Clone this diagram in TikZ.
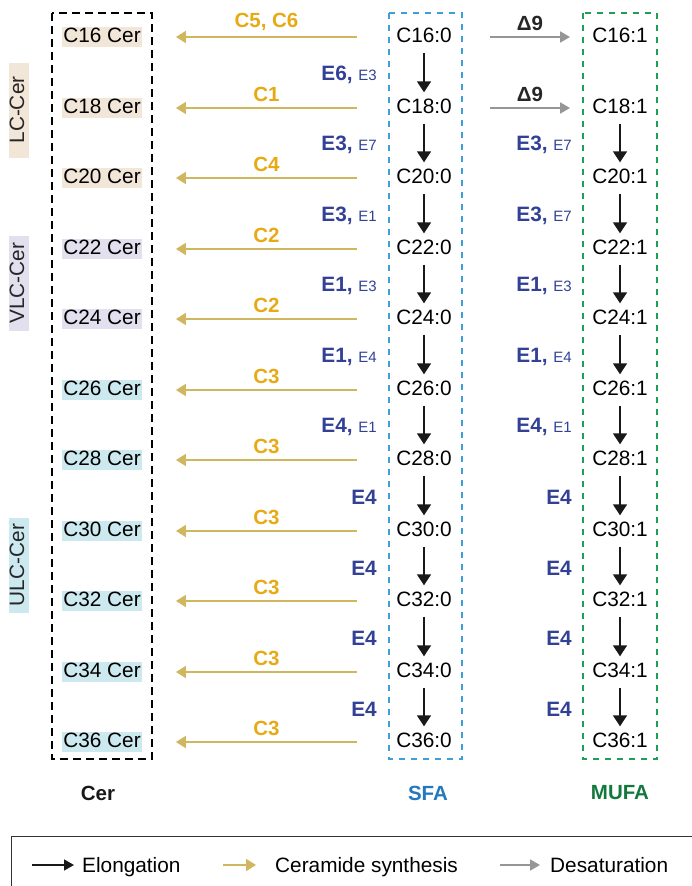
\documentclass[tikz,border=0pt]{standalone}
\usepackage{fontspec}
\setmainfont{Liberation Sans}
\usetikzlibrary{arrows.meta,calc}
\definecolor{cbeige}{RGB}{242,230,216}
\definecolor{clav}{RGB}{226,224,238}
\definecolor{cltblue}{RGB}{205,233,240}
\definecolor{goldtxt}{RGB}{232,170,20}
\definecolor{goldarr}{RGB}{208,182,95}
\definecolor{eblue}{RGB}{50,65,150}
\definecolor{sfatxt}{RGB}{35,120,190}
\definecolor{sfadash}{RGB}{60,160,215}
\definecolor{mufatxt}{RGB}{20,120,60}
\definecolor{mufadash}{RGB}{30,160,80}
\definecolor{grayarr}{RGB}{150,150,150}
\tikzset{
  cerbox/.style={inner xsep=1pt, inner ysep=0.5pt, text height=14.5pt, text depth=4.5pt},
  fabox/.style={inner xsep=2pt, inner ysep=6pt, text height=14.5pt, text depth=4.5pt},
  sidebox/.style={rotate=90, inner xsep=0pt, inner ysep=0.5pt, minimum width=95pt, text height=14.5pt, text depth=4.5pt, text=black!85},
  elong/.style={line width=1.6pt, -{Triangle[width=14pt,length=11pt]}, black!90},
  cerarr/.style={line width=1.9pt, goldarr, -{Triangle[width=12pt,length=10pt]}},
  desat/.style={line width=1.8pt, grayarr, -{Triangle[width=11pt,length=10pt]}},
  goldlab/.style={text=goldtxt, font=\fontsize{20.5}{24}\selectfont\bfseries},
  elab/.style={text=eblue, anchor=east, inner sep=0pt},
  grplab/.style={font=\fontsize{20.5}{24}\selectfont\bfseries},
  dashbox/.style={line width=1.8pt},
  legtext/.style={anchor=base west, inner sep=0pt}
}
\newcommand{\elbl}[2]{\textbf{#1}\ {\fontsize{15}{16}\selectfont #2}}
\begin{document}
\begin{tikzpicture}[x=1pt,y=-1pt, font=\fontsize{20.8}{24}\selectfont]
\useasboundingbox (0,0) rectangle (692,886);

% dashed group boxes
\draw[dashbox, black, dash pattern=on 8pt off 5pt] (52,13) rectangle (152,759);
\draw[dashbox, sfadash, dash pattern=on 6pt off 6pt] (389,13) rectangle (462,759);
\draw[dashbox, mufadash, dash pattern=on 6pt off 6pt] (583,13) rectangle (657,759);

% side labels
\node[sidebox, fill=cbeige] (lc) at (19,110) {LC-Cer};
\node[sidebox, fill=clav] (vlc) at (19,283) {VLC-Cer};
\node[sidebox, fill=cltblue] (ulc) at (19,565) {ULC-Cer};

% nodes
\foreach \n [count=\i from 0] in {16,18,...,36} {
  \pgfmathsetmacro{\yy}{round(37+70.5*\i)}
  \node[fabox] (s\n) at (424,\yy) {C\n:0};
  \node[fabox] (m\n) at (620,\yy) {C\n:1};
}
\foreach \n [count=\i from 0] in {16,18,20} {
  \pgfmathsetmacro{\yy}{round(37+70.5*\i)}
  \node[cerbox, fill=cbeige] (c\n) at (102,\yy) {C\n{} Cer};
}
\foreach \n [count=\i from 3] in {22,24} {
  \pgfmathsetmacro{\yy}{round(37+70.5*\i)}
  \node[cerbox, fill=clav] (c\n) at (102,\yy) {C\n{} Cer};
}
\foreach \n [count=\i from 5] in {26,28,...,36} {
  \pgfmathsetmacro{\yy}{round(37+70.5*\i)}
  \node[cerbox, fill=cltblue] (c\n) at (102,\yy) {C\n{} Cer};
}

% ceramide synthesis arrows
\foreach \n/\lab in {16/{C5, C6},18/C1,20/C4,22/C2,24/C2,26/C3,28/C3,30/C3,32/C3,34/C3,36/C3} {
  \coordinate (ys\n) at ([xshift=-67pt]s\n.center);
  \draw[cerarr] (ys\n) -- ([xshift=34pt]c\n.east) node[midway, above=2pt, goldlab] {\lab};
}

% desaturation arrows
\foreach \n in {16,18} {
  \draw[desat] ([xshift=36pt]s\n.east) -- ([xshift=-20pt]m\n.west)
     node[midway, above=2pt, font=\fontsize{20.5}{24}\selectfont\bfseries, text=black!85] {Δ9};
}

% elongation arrows SFA
\foreach \a/\b/\p/\q in {16/18/{E6,}/E3, 18/20/{E3,}/E7, 20/22/{E3,}/E1, 22/24/{E1,}/E3, 24/26/{E1,}/E4, 26/28/{E4,}/E1, 28/30/E4/{}, 30/32/E4/{}, 32/34/E4/{}, 34/36/E4/{}} {
  \draw[elong] (s\a) -- (s\b);
  \node[elab] at ([xshift=-47pt,yshift=-2pt]$(s\a)!0.5!(s\b)$) {\elbl{\p}{\q}};
}
% elongation arrows MUFA
\foreach \a/\b/\p/\q in {18/20/{E3,}/E7, 20/22/{E3,}/E7, 22/24/{E1,}/E3, 24/26/{E1,}/E4, 26/28/{E4,}/E1, 28/30/E4/{}, 30/32/E4/{}, 32/34/E4/{}, 34/36/E4/{}} {
  \draw[elong] (m\a) -- (m\b);
  \node[elab] at ([xshift=-48pt,yshift=-2pt]$(m\a)!0.5!(m\b)$) {\elbl{\p}{\q}};
}

% group labels
\node[grplab, text=black!90] (gcer) at (98,793) {Cer};
\node[grplab, text=sfatxt] (gsfa) at (428,793) {SFA};
\node[grplab, text=mufatxt] (gmufa) at (620,793) {MUFA};

% legend
\draw[line width=1pt, black!80] (11,890) -- (11,836) -- (700,836);
\coordinate (l1a) at (32,865); \coordinate (l1b) at (74,865);
\draw[elong, line width=1.6pt, -{Triangle[width=11pt,length=10pt]}] (l1a) -- (l1b);
\node[legtext] (t1) at (82,872) {Elongation};
\coordinate (l2a) at (223,865); \coordinate (l2b) at (256,865);
\draw[cerarr] (l2a) -- (l2b);
\node[legtext] (t2) at (275,872) {Ceramide synthesis};
\coordinate (l3a) at (500,865); \coordinate (l3b) at (540,865);
\draw[desat] (l3a) -- (l3b);
\node[legtext] (t3) at (550,872) {Desaturation};
\end{tikzpicture}
\end{document}
